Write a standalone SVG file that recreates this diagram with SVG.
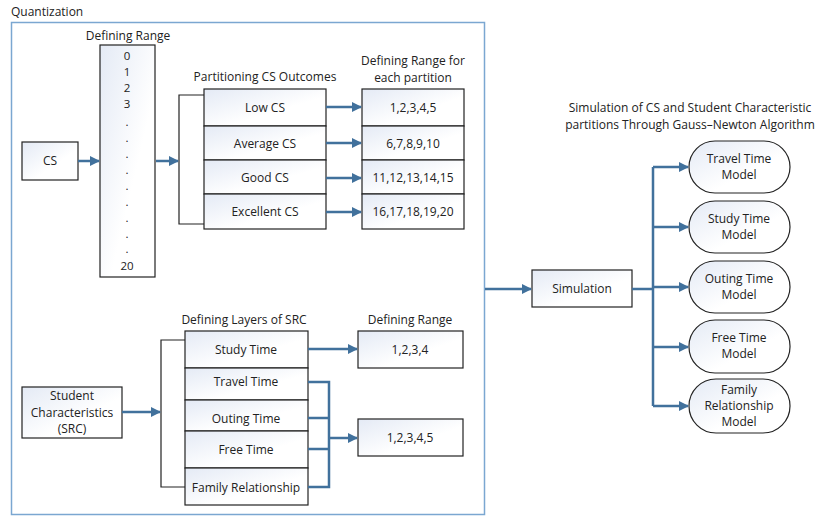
<svg xmlns="http://www.w3.org/2000/svg" width="817" height="518" viewBox="0 0 817 518">
<defs>
<linearGradient id="g" x1="0" y1="0" x2="1" y2="1">
<stop offset="0" stop-color="#e4eaf5"/>
<stop offset="0.6" stop-color="#ffffff"/>
</linearGradient>
<marker id="a" viewBox="0 0 10 10" refX="9" refY="5" markerWidth="4" markerHeight="4" orient="auto" markerUnits="strokeWidth">
<path d="M0,0 L10,5 L0,10 z" fill="#41719c"/>
</marker>
</defs>
<style>
text{font-family:"Open Sans","Liberation Sans",sans-serif;font-size:12px;fill:#222;text-anchor:middle}
.d{font-size:11.5px}
.b{fill:url(#g);stroke:#222;stroke-width:1.2}
.k{fill:none;stroke:#222;stroke-width:1.2}
.c{fill:none;stroke:#41719c;stroke-width:2.5}
.ar{marker-end:url(#a)}
</style>
<rect width="817" height="518" fill="#fff"/>
<text x="11" y="16" style="text-anchor:start">Quantization</text>
<rect x="11.5" y="22.5" width="473" height="492" fill="none" stroke="#7ba7d1" stroke-width="1.5"/>

<g id="cs"><rect class="b" x="22" y="142" width="56" height="38"/><text x="50" y="165">CS</text></g>

<g id="range-column">
<text x="128" y="40">Defining Range</text>
<rect class="b" x="100" y="45" width="55" height="232"/>
<text class="d" x="127" y="60">0</text><text class="d" x="127" y="76">1</text><text class="d" x="127" y="92">2</text><text class="d" x="127" y="108">3</text>
<text class="d" x="127" y="126">.</text><text class="d" x="127" y="142">.</text><text class="d" x="127" y="158">.</text><text class="d" x="127" y="174">.</text>
<text class="d" x="127" y="190">.</text><text class="d" x="127" y="206">.</text><text class="d" x="127" y="222">.</text><text class="d" x="127" y="238">.</text><text class="d" x="127" y="253">.</text>
<text class="d" x="127" y="270">20</text>
</g>

<g id="partitions">
<text x="265" y="81">Partitioning CS Outcomes</text>
<path class="k" d="M204,95 H179 V224 H204"/>
<rect class="b" x="204" y="89" width="122" height="37"/><text x="265" y="112">Low CS</text>
<rect class="b" x="204" y="126" width="122" height="34"/><text x="265" y="148">Average CS</text>
<rect class="b" x="204" y="160" width="122" height="34"/><text x="265" y="182">Good CS</text>
<rect class="b" x="204" y="194" width="122" height="35"/><text x="265" y="216">Excellent CS</text>
</g>

<g id="partition-ranges">
<text x="413" y="65">Defining Range for</text>
<text x="413" y="82">each partition</text>
<rect class="b" x="362" y="89" width="102" height="37"/><text x="413" y="112">1,2,3,4,5</text>
<rect class="b" x="362" y="126" width="102" height="34"/><text x="413" y="148">6,7,8,9,10</text>
<rect class="b" x="362" y="160" width="102" height="34"/><text x="413" y="182">11,12,13,14,15</text>
<rect class="b" x="362" y="194" width="102" height="35"/><text x="413" y="216">16,17,18,19,20</text>
</g>

<g id="src"><rect class="b" x="22" y="387" width="100" height="51"/>
<text x="72" y="400">Student</text><text x="72" y="416.5">Characteristics</text><text x="72" y="433">(SRC)</text></g>

<g id="layers">
<text x="244" y="324">Defining Layers of SRC</text>
<path class="k" d="M185,340 H161 V487 H185"/>
<rect class="b" x="185" y="331" width="123" height="37"/><text x="246" y="354">Study Time</text>
<rect class="b" x="185" y="368" width="123" height="32"/><text x="246" y="386">Travel Time</text>
<rect class="b" x="185" y="400" width="123" height="31"/><text x="246" y="423">Outing Time</text>
<rect class="b" x="185" y="431" width="123" height="37"/><text x="246" y="454">Free Time</text>
<rect class="b" x="185" y="468" width="123" height="37"/><text x="246" y="492">Family Relationship</text>
</g>

<g id="layer-ranges">
<text x="410" y="324">Defining Range</text>
<rect class="b" x="358" y="331" width="105" height="37"/><text x="410" y="354">1,2,3,4</text>
<rect class="b" x="358" y="419" width="105" height="37"/><text x="410" y="442">1,2,3,4,5</text>
</g>

<g id="simulation"><rect class="b" x="532" y="270" width="100" height="37"/><text x="582" y="293">Simulation</text></g>

<g id="models">
<text x="690" y="112">Simulation of CS and Student Characteristic</text>
<text x="690" y="129">partitions Through Gauss–Newton Algorithm</text>
<rect class="b" x="689" y="141" width="101" height="52" rx="26"/><text x="739" y="163">Travel Time</text><text x="739" y="179">Model</text>
<rect class="b" x="689" y="201" width="101" height="52" rx="26"/><text x="739" y="223">Study Time</text><text x="739" y="239">Model</text>
<rect class="b" x="689" y="261" width="101" height="52" rx="26"/><text x="739" y="283">Outing Time</text><text x="739" y="299">Model</text>
<rect class="b" x="689" y="320" width="101" height="53" rx="26"/><text x="739" y="342">Free Time</text><text x="739" y="358">Model</text>
<rect class="b" x="689" y="379" width="101" height="54" rx="27"/><text x="739" y="394">Family</text><text x="739" y="410">Relationship</text><text x="739" y="426">Model</text>
</g>

<g id="connectors">
<line class="c ar" x1="78" y1="161" x2="99" y2="161"/>
<line class="c ar" x1="156" y1="161" x2="178" y2="161"/>
<line class="c ar" x1="326" y1="107" x2="361" y2="107"/>
<line class="c ar" x1="326" y1="143" x2="361" y2="143"/>
<line class="c ar" x1="326" y1="178" x2="361" y2="178"/>
<line class="c ar" x1="326" y1="212" x2="361" y2="212"/>
<line class="c ar" x1="122" y1="412" x2="160" y2="412"/>
<line class="c ar" x1="308" y1="349" x2="357" y2="349"/>
<path class="c" d="M308,382 H329 V487 H308 M308,418 H329 M308,449 H329"/>
<line class="c ar" x1="329" y1="438" x2="357" y2="438"/>
<line class="c ar" x1="485" y1="289" x2="531" y2="289"/>
<path class="c" d="M632,289 H653 M653,167 V406"/>
<line class="c ar" x1="653" y1="167" x2="688" y2="167"/>
<line class="c ar" x1="653" y1="227" x2="688" y2="227"/>
<line class="c ar" x1="653" y1="287" x2="688" y2="287"/>
<line class="c ar" x1="653" y1="347" x2="688" y2="347"/>
<line class="c ar" x1="653" y1="406" x2="688" y2="406"/>
</g>
</svg>
